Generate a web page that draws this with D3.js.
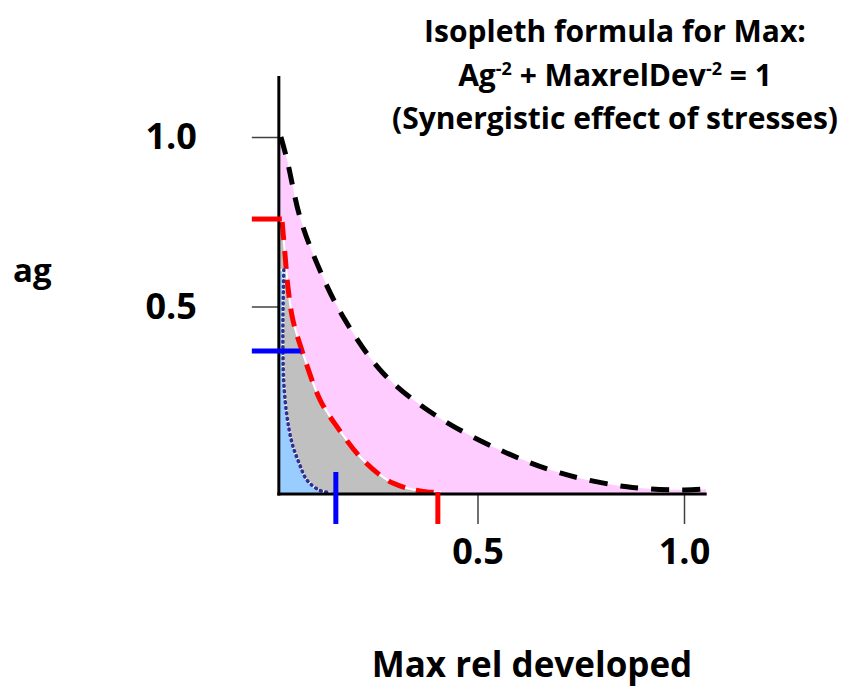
<!DOCTYPE html>
<html>
<head>
<meta charset="utf-8">
<script src="https://cdn.jsdelivr.net/npm/d3@7"></script>
<style>
  html, body { margin: 0; padding: 0; background: #fff; }
  svg { display: block; font-family: "Open Sans", Lato, sans-serif; font-weight: 700; }
</style>
</head>
<body>
<svg id="chart" width="856" height="692"></svg>
<script>
// ---- Data : [Max rel developed, ag] ----
const blackIsopleth = [[0.024,1.0],[0.039,0.932],[0.070,0.764],[0.111,0.628],[0.172,0.475],[0.271,0.304],[0.397,0.180],[0.554,0.077],[0.700,0.009],[0.862,-0.032],[1.0,-0.041],[1.053,-0.038]];
const redIsopleth   = [[0.027,0.749],[0.034,0.652],[0.041,0.558],[0.053,0.460],[0.077,0.363],[0.119,0.224],[0.160,0.145],[0.223,0.047],[0.295,-0.021],[0.378,-0.047],[0.409,-0.047]];
const blueIsopleth  = [[0.031,0.608],[0.029,0.469],[0.029,0.372],[0.031,0.274],[0.039,0.174],[0.051,0.097],[0.068,0.038],[0.087,-0.012],[0.116,-0.041],[0.143,-0.050]];
const axisOrigin  = [0.019, -0.053];  // where the drawn axes cross
const axisEnd     = [1.055, 1.18];
const xTickValues = [0.5, 1.0];
const yTickValues = [0.5, 1.0];
const tickLabels  = ["0.5", "1.0"];
const markerAg    = [0.758, 0.369]; // horizontal marks on ag axis (red, blue)
const markerMax   = [0.404, 0.157]; // vertical marks on Max axis (red, blue)
const markerColors = ["#ff0000", "#0000ff"];
const titleLines = ["Isopleth formula for Max:", "(Synergistic effect of stresses)"];

// ---- Scales ----
const svg = d3.select("#chart");
const x = d3.scaleLinear().domain([0, 1]).range([271, 684]);
const y = d3.scaleLinear().domain([0, 1]).range([476, 137]);
const X0 = x(axisOrigin[0]), Y0 = y(axisOrigin[1]);

const cv = d3.curveCatmullRom.alpha(0.5);
const lineGen = d3.line().x(d => x(d[0])).y(d => y(d[1])).curve(cv);
function region(data) {
  // closed region between the ag axis, the Max axis and a curve
  return "M" + X0 + "," + y(data[0][1]) +
         lineGen(data).replace(/^M/, "L") +
         "L" + x(data[data.length-1][0]) + "," + Y0 + "L" + X0 + "," + Y0 + "Z";
}

// ---- Filled regions ----
svg.append("path").attr("d", region(blackIsopleth)).attr("fill", "#ffccff");
svg.append("path").attr("d", region(redIsopleth)).attr("fill", "#c0c0c0").attr("stroke", "#fff").attr("stroke-width", 2);
svg.append("path").attr("d", region(blueIsopleth)).attr("fill", "#99ccff").attr("stroke", "#fff").attr("stroke-width", 2.5);

// ---- Curves ----
svg.append("path").datum(blackIsopleth).attr("d", lineGen).attr("fill", "none")
  .attr("stroke", "#000").attr("stroke-width", 5).attr("stroke-dasharray", "18,13");
svg.append("path").datum(redIsopleth).attr("d", lineGen).attr("fill", "none")
  .attr("stroke", "#ff0000").attr("stroke-width", 5).attr("stroke-dasharray", "18,11");
svg.append("path").datum(blueIsopleth).attr("d", lineGen).attr("fill", "none")
  .attr("stroke", "#2e3192").attr("stroke-width", 3.5).attr("stroke-dasharray", "1,4.5").attr("stroke-linecap", "round");

// ---- Axes ticks & labels ----
const yAxis = d3.axisLeft(y).tickValues(yTickValues).tickSize(27).tickPadding(55)
  .tickFormat((d, i) => tickLabels[i]);
const gy = svg.append("g").attr("transform", `translate(${X0},0)`).call(yAxis);
const xAxis = d3.axisBottom(x).tickValues(xTickValues).tickSize(30).tickPadding(14)
  .tickFormat((d, i) => tickLabels[i]);
const gx = svg.append("g").attr("transform", `translate(0,${Y0})`).call(xAxis);
[gx, gy].forEach(g => {
  g.select(".domain").remove();
  g.selectAll(".tick line").attr("stroke", "#404040").attr("stroke-width", 1.5);
  g.selectAll(".tick text").attr("fill", "#000").style("font-size", "36px")
    .style("font-family", "'Open Sans', sans-serif").style("font-weight", 700);
});

// axis lines
svg.append("line").attr("x1", X0).attr("x2", X0).attr("y1", y(axisEnd[1])).attr("y2", Y0 + 1.5)
  .attr("stroke", "#000").attr("stroke-width", 3);
svg.append("line").attr("x1", X0 - 1.5).attr("x2", x(axisEnd[0])).attr("y1", Y0).attr("y2", Y0)
  .attr("stroke", "#000").attr("stroke-width", 3);

// ---- Marker ticks ----
const hExt = [[-27, 3], [-27, 22]];
const vExt = [[-2, 30], [-22, 30]];
markerAg.forEach((v, i) => {
  svg.append("line").attr("x1", X0 + hExt[i][0]).attr("x2", X0 + hExt[i][1])
    .attr("y1", y(v)).attr("y2", y(v)).attr("stroke", markerColors[i]).attr("stroke-width", 5);
});
markerMax.forEach((v, i) => {
  svg.append("line").attr("x1", x(v)).attr("x2", x(v))
    .attr("y1", Y0 + vExt[i][0]).attr("y2", Y0 + vExt[i][1]).attr("stroke", markerColors[i]).attr("stroke-width", 5);
});

// ---- Axis titles ----
svg.append("text").attr("x", 13).attr("y", 282).style("font-size", "33px").text("ag");
svg.append("text").attr("x", 532).attr("y", 677).attr("text-anchor", "middle").style("font-size", "35px").text("Max rel developed");

// ---- Title ----
const tcx = 615;
svg.append("text").attr("x", tcx).attr("y", 42).attr("text-anchor", "middle").style("font-size", "30px").text(titleLines[0]);
const t2 = svg.append("text").attr("x", tcx).attr("y", 86).attr("text-anchor", "middle").style("font-size", "30px");
t2.append("tspan").text("Ag");
t2.append("tspan").attr("dy", -11).style("font-size", "18px").text("-2");
t2.append("tspan").attr("dy", 11).text(" + MaxrelDev");
t2.append("tspan").attr("dy", -11).style("font-size", "18px").text("-2");
t2.append("tspan").attr("dy", 11).text(" = 1");
svg.append("text").attr("x", tcx).attr("y", 129).attr("text-anchor", "middle").style("font-size", "30px").text(titleLines[1]);
</script>
</body>
</html>
